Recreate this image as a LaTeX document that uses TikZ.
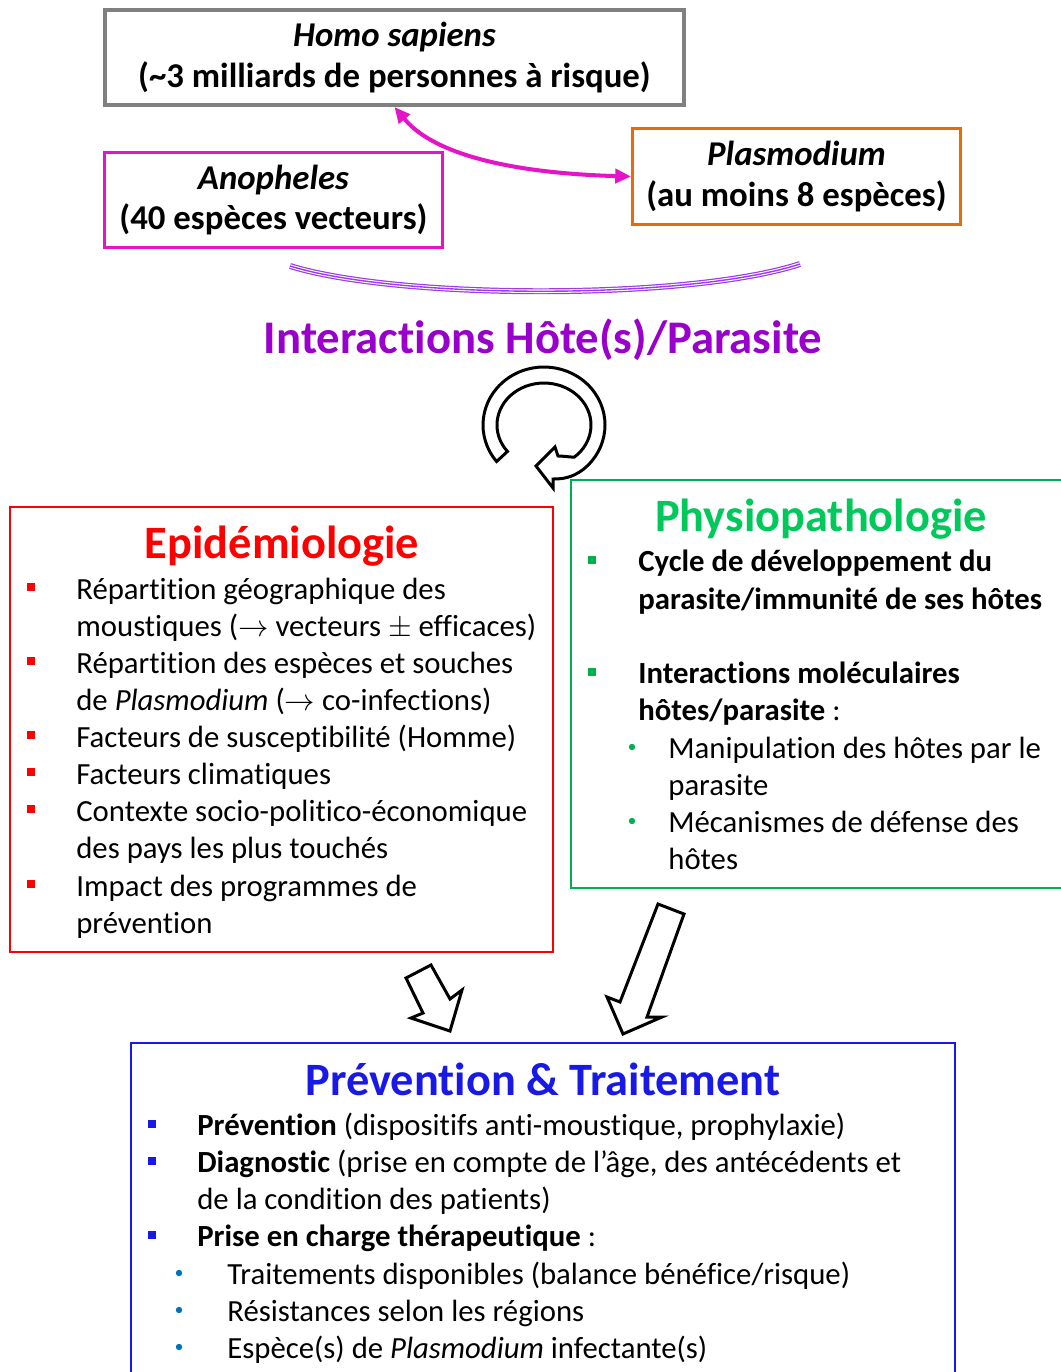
\documentclass[tikz,border=0pt]{standalone}
\usepackage{fontspec}
\setmainfont[Ligatures=NoCommon]{Carlito}
\usetikzlibrary{arrows.meta}

\definecolor{grisbox}{RGB}{128,128,128}
\definecolor{magbox}{RGB}{230,20,200}
\definecolor{orbox}{RGB}{228,108,10}
\definecolor{violtitre}{RGB}{153,0,204}
\definecolor{violarc}{RGB}{160,60,230}
\definecolor{rouge}{RGB}{255,0,0}
\definecolor{vertbox}{RGB}{0,176,80}
\definecolor{verttitre}{RGB}{0,200,90}
\definecolor{bleu}{RGB}{25,25,230}
\definecolor{bleupuce}{RGB}{0,112,192}

\tikzset{
  hostbox/.style={draw, line width=1.7pt, align=center, inner sep=0pt,
    font=\fontsize{19.8}{23.2}\selectfont\bfseries},
  titre/.style={anchor=base, inner sep=0pt, font=\fontsize{26.4}{32}\selectfont\bfseries},
  liste/.style={anchor=base west, inner sep=0pt, font=\fontsize{17.5}{21}\selectfont},
  listegras/.style={liste, font=\fontsize{17.5}{21}\selectfont\bfseries},
  cadre/.style={line width=0.9pt},
  flecheblanche/.style={draw=black, line width=1.7pt, fill=white, line join=miter},
}

\begin{document}
\begin{tikzpicture}[x=0.02cm, y=-0.02cm]
  \useasboundingbox (0,0) rectangle (1061,1372);
  \clip (0,0) rectangle (1061,1372);

  %%%%% hotes %%%%%
  \node[hostbox, draw=grisbox, line width=2.3pt, minimum width=11.58cm, minimum height=1.9cm]
    (homo) at (394.5,57.5) {\textit{Homo sapiens}\\(\textasciitilde3 milliards de personnes à risque)};
  \node[hostbox, draw=magbox, minimum width=6.76cm, minimum height=1.9cm]
    (anoph) at (273.5,200) {\textit{Anopheles}\\(40 espèces vecteurs)};
  \node[hostbox, draw=orbox, minimum width=6.56cm, minimum height=1.92cm]
    (plasmo) at (796.5,176.5) {\textit{Plasmodium}\\(au moins 8 espèces)};
  \draw[magbox, line width=2.3pt, {Triangle[length=9pt,width=8pt]}-{Triangle[length=9pt,width=8pt]}]
    (homo.south) .. controls (440,162) and (540,174) .. (plasmo.west);

  % triple trait
  \draw[violarc, line width=3.4pt] (290,266) .. controls (400,300) and (690,300) .. (800,264);
  \draw[white, line width=2pt] (290,266) .. controls (400,300) and (690,300) .. (800,264);
  \draw[violarc, line width=0.8pt] (290,266) .. controls (400,300) and (690,300) .. (800,264);

  \node[titre, text=violtitre, font=\fontsize{26.6}{32}\selectfont\bfseries] (inter) at (543,353)
    {Interactions Hôte(s)/Parasite};

  % fleche circulaire
  \draw[flecheblanche] (496.6,461.5) arc[start angle=141, end angle=410, x radius=61, y radius=58]
    .. controls (572,478) and (562,479) .. (553,479) -- (553,488) -- (536,466) -- (555,447)
    -- (558,456) .. controls (563,456) and (569,457) .. (574.2,457.2)
    arc[start angle=410, end angle=141, x radius=47, y radius=42] -- cycle;

  %%%%% Epidemiologie %%%%%
  \draw[cadre, rouge] (10,507) rectangle (553,952);
  \node[titre, text=rouge] (epi) at (282,558) {Epidémiologie};
  \foreach \y in {587,661,735,772,809,884}
    \fill[rouge] (27,\y-4) rectangle (35,\y+4);
  \node[liste] (e1a) at (76,599) {Répartition géographique des};
  \node[liste] (e1b) at (76,636) {moustiques ($\rightarrow$ vecteurs $\pm$ efficaces)};
  \node[liste] (e2a) at (76,673) {Répartition des espèces et souches};
  \node[liste] (e2b) at (76,710) {de \textit{Plasmodium} ($\rightarrow$ co-infections)};
  \node[liste] (e3) at (76,747) {Facteurs de susceptibilité (Homme)};
  \node[liste] (e4) at (76,784) {Facteurs climatiques};
  \node[liste] (e5a) at (76,821) {Contexte socio-politico-économique};
  \node[liste] (e5b) at (76,858) {des pays les plus touchés};
  \node[liste] (e6a) at (76,896) {Impact des programmes de};
  \node[liste] (e6b) at (76,933) {prévention};

  %%%%% Physiopathologie %%%%%
  \draw[cadre, vertbox] (571,480) rectangle (1080,888);
  \node[titre, text=verttitre] (physio) at (821,531) {Physiopathologie};
  \foreach \y in {560,672}
    \fill[vertbox] (588,\y-4) rectangle (596,\y+4);
  \foreach \y in {747,821}
    \fill[vertbox] (632,\y) circle (3.2);
  \node[listegras] (p1a) at (638,571) {Cycle de développement du};
  \node[listegras] (p1b) at (638,609) {parasite/immunité de ses hôtes};
  \node[listegras] (p2a) at (638,683) {Interactions moléculaires};
  \node[listegras] (p2b) at (638,720) {hôtes/parasite \mdseries:};
  \node[liste] (p3a) at (668,758) {Manipulation des hôtes par le};
  \node[liste] (p3b) at (668,795) {parasite};
  \node[liste] (p4a) at (668,832) {Mécanismes de défense des};
  \node[liste] (p4b) at (668,869) {hôtes};

  %%%%% fleches blocs %%%%%
  \draw[flecheblanche] (406,978) -- (431,965) -- (450,999) -- (462,990) -- (450,1031)
    -- (411,1018) -- (423,1013) -- cycle;
  \draw[flecheblanche] (658,904) -- (684,914) -- (647,1017) -- (662,1017) -- (623,1034)
    -- (607,997) -- (620,1002) -- cycle;

  %%%%% Prevention %%%%%
  \draw[cadre, bleu] (131,1043) rectangle (955,1400);
  \node[titre, text=bleu] (prev) at (543,1095) {Prévention \& Traitement};
  \foreach \y in {1124,1161,1235}
    \fill[bleu] (148,\y-4) rectangle (156,\y+4);
  \foreach \y in {1273,1310,1347}
    \fill[bleupuce] (179,\y) circle (3.2);
  \node[liste] (t1) at (197,1135) {\textbf{Prévention} (dispositifs anti-moustique, prophylaxie)};
  \node[liste] (t2a) at (197,1172) {\textbf{Diagnostic} (prise en compte de l’âge, des antécédents et};
  \node[liste] (t2b) at (197,1209) {de la condition des patients)};
  \node[liste] (t3) at (197,1246) {\textbf{Prise en charge thérapeutique} :};
  \node[liste] (t4) at (227,1284) {Traitements disponibles (balance bénéfice/risque)};
  \node[liste] (t5) at (227,1321) {Résistances selon les régions};
  \node[liste] (t6) at (227,1358) {Espèce(s) de \textit{Plasmodium} infectante(s)};
\end{tikzpicture}
\end{document}
